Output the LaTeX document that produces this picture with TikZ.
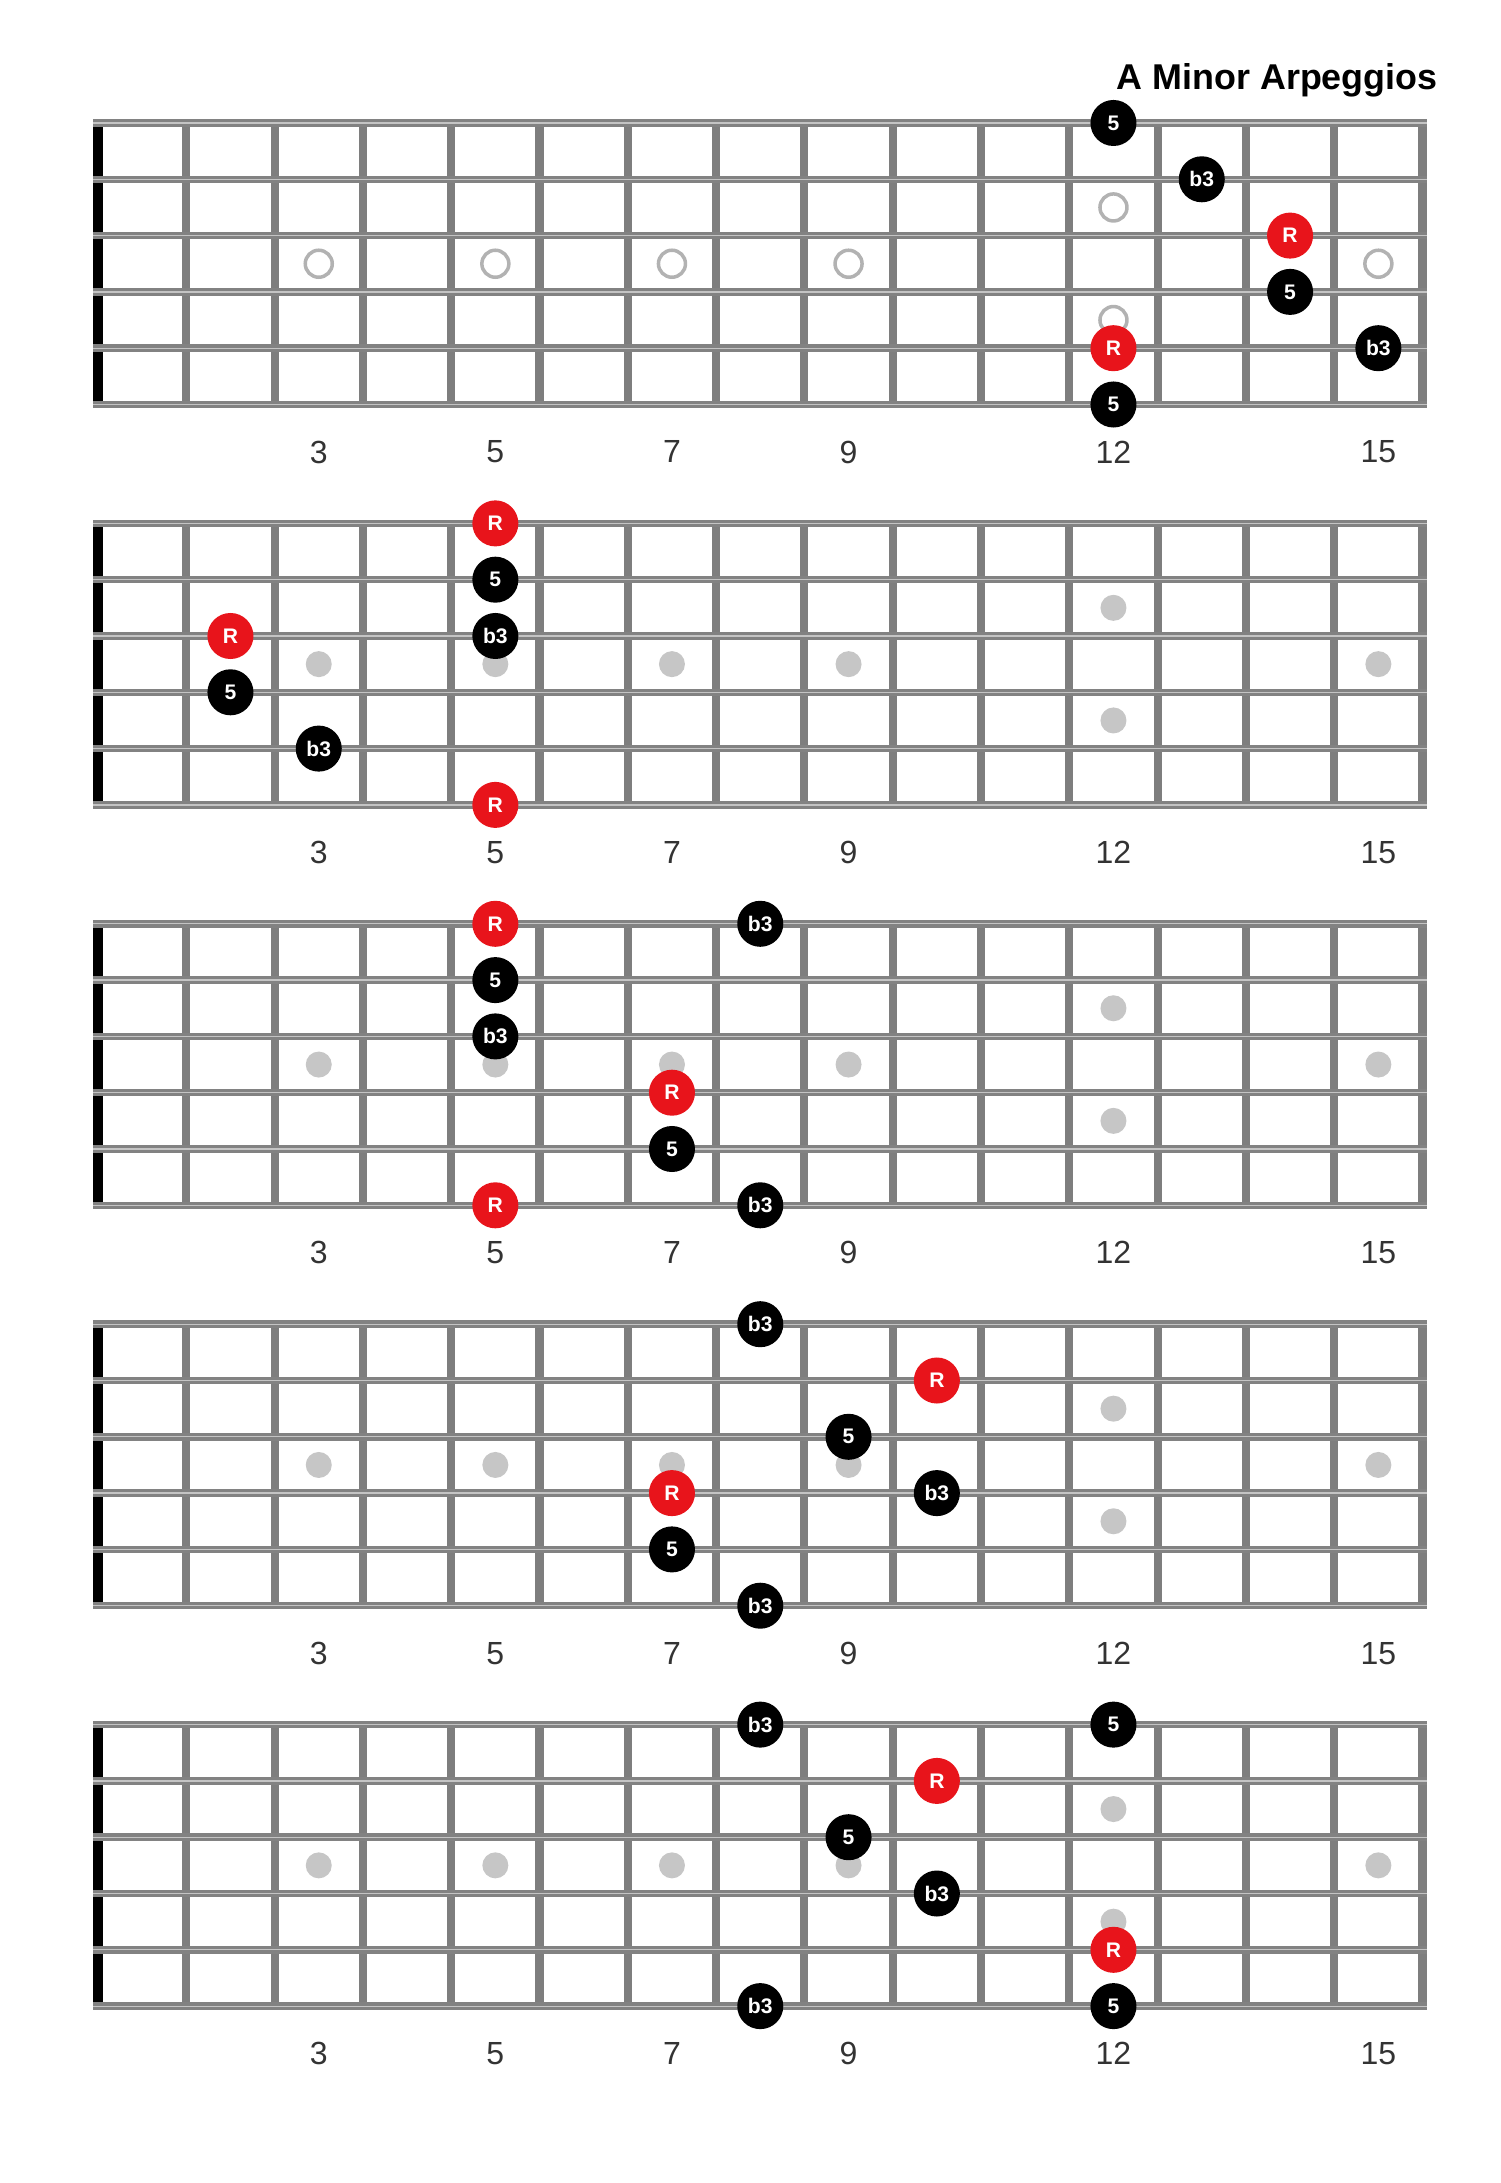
\documentclass[tikz,border=0pt]{standalone}
\usepackage{fontspec}
\setmainfont{Liberation Sans}
\usepackage{xcolor}
\usepackage{tikz}
\usetikzlibrary{calc}

\definecolor{wire}{HTML}{828282}
\definecolor{wirelight}{HTML}{C4C4C4}
\definecolor{fretgray}{HTML}{7E7E7E}
\definecolor{inlay}{HTML}{C6C6C6}
\definecolor{ringgray}{HTML}{B2B2B2}
\definecolor{rootred}{HTML}{E8141B}
\definecolor{numgray}{HTML}{333333}

\tikzset{
  wirestring/.style={draw=wire,line width=0.9pt,double=wirelight,double distance=0.35pt},
  fretline/.style={draw=fretgray,line width=2.3pt},
  nutline/.style={draw=black,line width=2.85pt},
  note/.style={circle,fill=black,text=white,inner sep=0pt,minimum size=0.46cm,
    font=\bfseries\fontsize{6}{6}\selectfont},
  root/.style={note,fill=rootred},
  inlaydot/.style={circle,fill=inlay,inner sep=0pt,minimum size=0.26cm},
  inlayring/.style={circle,draw=ringgray,line width=1pt,inner sep=0pt,minimum size=0.27cm},
  fretnum/.style={text=numgray,inner sep=0pt,font=\fontsize{9.1}{9.1}\selectfont},
}

\begin{document}
\begin{tikzpicture}[x=0.01cm,y=-0.01cm]
  \useasboundingbox (0,0) rectangle (1500,2183);
  \def\fw{88.3}   % fret spacing
  \def\sw{56.3}   % string spacing

  % Title
  \node (title) at (1450,90) [anchor=base east,font=\bfseries\fontsize{10.2}{10.2}\selectfont] {A Minor Arpeggios};

  % Five fretboards
  \foreach \k in {0,...,4} {
    \pgfmathsetmacro{\ytop}{123+400.4*\k}
    \pgfmathsetmacro{\ybot}{\ytop+5*\sw}
    % frets
    \foreach \f in {1,...,15}
      \draw [fretline] ({98+\fw*\f},\ytop) -- ({98+\fw*\f},\ybot);
    % nut
    \draw [nutline] (98,\ytop) -- (98,\ybot);
    % strings
    \foreach \s in {0,...,5}
      \draw [wirestring] (93,{\ytop+\sw*\s}) -- (1427,{\ytop+\sw*\s});
    % fret numbers
    \foreach \f in {3,5,7,9,12,15}
      \node (num\k-\f) at ({98+\fw*(\f-0.5)},{\ytop+329}) [fretnum] {\f};
  }

  % Inlays: rings on the first board, dots on the others
  \foreach \k/\st in {0/inlayring,1/inlaydot,2/inlaydot,3/inlaydot,4/inlaydot} {
    \pgfmathsetmacro{\ytop}{123+400.4*\k}
    \foreach \f in {3,5,7,9,15}
      \node (mark\k-\f) at ({98+\fw*(\f-0.5)},{\ytop+2.5*\sw}) [\st] {};
    \node (mark\k-12a) at ({98+\fw*11.5},{\ytop+1.5*\sw}) [\st] {};
    \node (mark\k-12b) at ({98+\fw*11.5},{\ytop+3.5*\sw}) [\st] {};
  }

  % Notes: board / fret / string / label / style
  \foreach \k/\f/\s/\t/\st in {
      0/12/1/5/note, 0/13/2/b3/note, 0/14/3/R/root, 0/14/4/5/note,
      0/12/5/R/root, 0/15/5/b3/note, 0/12/6/5/note,
      1/5/1/R/root, 1/5/2/5/note, 1/5/3/b3/note, 1/2/3/R/root,
      1/2/4/5/note, 1/3/5/b3/note, 1/5/6/R/root,
      2/5/1/R/root, 2/8/1/b3/note, 2/5/2/5/note, 2/5/3/b3/note,
      2/7/4/R/root, 2/7/5/5/note, 2/5/6/R/root, 2/8/6/b3/note,
      3/8/1/b3/note, 3/10/2/R/root, 3/9/3/5/note, 3/7/4/R/root,
      3/10/4/b3/note, 3/7/5/5/note, 3/8/6/b3/note,
      4/8/1/b3/note, 4/12/1/5/note, 4/10/2/R/root, 4/9/3/5/note,
      4/10/4/b3/note, 4/12/5/R/root, 4/8/6/b3/note, 4/12/6/5/note} {
    \node (n\k-\f-\s) at ({98+\fw*(\f-0.5)},{123+400.4*\k+\sw*(\s-1)}) [\st] {\t};
  }
\end{tikzpicture}
\end{document}
